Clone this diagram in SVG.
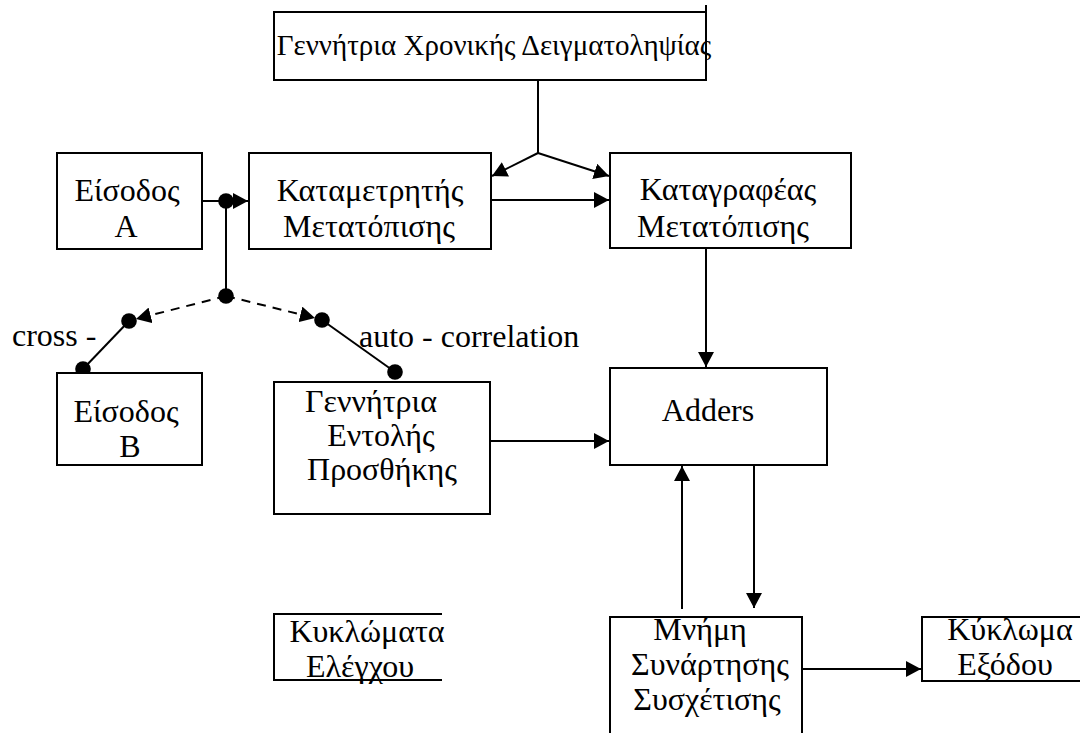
<svg xmlns="http://www.w3.org/2000/svg" width="1080" height="733" viewBox="0 0 1080 733">
  <style>
    .box { fill: #fff; stroke: #000; stroke-width: 2; }
    .open { fill: none; stroke: #000; stroke-width: 2; }
    .mid { text-anchor: middle; }
    .wire { fill: none; stroke: #000; stroke-width: 2; }
    .dash { stroke-dasharray: 9 7; }
    .dot { fill: #000; }
  </style>
  <defs>
    <marker id="arrow" markerUnits="userSpaceOnUse" viewBox="0 0 15 16" markerWidth="15" markerHeight="16" refX="15" refY="8" orient="auto">
      <path d="M0,0 L15,8 L0,16 z" fill="#000"/>
    </marker>
  </defs>

  <rect width="1080" height="733" fill="#fff"/>

  <!-- connectors -->
  <g id="connectors">
    <!-- sampling clock fan-out -->
    <path class="wire" d="M538,80 L538,153"/>
    <path class="wire" d="M538,153 L492,176" marker-end="url(#arrow)"/>
    <path class="wire" d="M538,153 L609,176" marker-end="url(#arrow)"/>
    <!-- input A to shift counter -->
    <path class="wire" d="M202,201 L248,201" marker-end="url(#arrow)"/>
    <!-- counter to register -->
    <path class="wire" d="M491,200 L609,200" marker-end="url(#arrow)"/>
    <!-- mode switch -->
    <path class="wire" d="M226,201 L226,296"/>
    <path class="wire dash" d="M226,296 L136,319" marker-end="url(#arrow)"/>
    <path class="wire dash" d="M226,296 L315,318" marker-end="url(#arrow)"/>
    <path class="wire" d="M129,321 L83,369"/>
    <path class="wire" d="M322,320 L395,372"/>
    <circle class="dot" cx="226" cy="201" r="7.8"/>
    <circle class="dot" cx="226" cy="296" r="7.8"/>
    <circle class="dot" cx="129" cy="321" r="7.8"/>
    <circle class="dot" cx="322" cy="320" r="7.8"/>
    <circle class="dot" cx="83" cy="369" r="7.8"/>
    <circle class="dot" cx="395" cy="372" r="7.8"/>
    <!-- register to adders -->
    <path class="wire" d="M706,248 L706,367" marker-end="url(#arrow)"/>
    <!-- add command generator to adders -->
    <path class="wire" d="M490,441 L609,441" marker-end="url(#arrow)"/>
    <!-- adders <-> memory -->
    <path class="wire" d="M682,609 L682,466" marker-end="url(#arrow)"/>
    <path class="wire" d="M754,465 L754,608" marker-end="url(#arrow)"/>
    <!-- memory to output -->
    <path class="wire" d="M802,669 L921,669" marker-end="url(#arrow)"/>
  </g>

  <g font-family="Liberation Serif, DejaVu Serif, serif" font-size="32" fill="#000">
    <g id="sampling-generator">
      <rect class="box" x="274" y="12" width="432" height="68"/>
      <path class="open" d="M706,5 L706,12"/>
      <text class="mid" x="494" y="55" font-size="29">Γεννήτρια Χρονικής Δειγματοληψίας</text>
    </g>

    <g id="input-a">
      <rect class="box" x="57" y="153" width="145" height="96"/>
      <text class="mid" x="127" y="201">Είσοδος</text>
      <text class="mid" x="126" y="237">A</text>
    </g>

    <g id="shift-counter">
      <rect class="box" x="249" y="153" width="242" height="96"/>
      <text class="mid" x="370" y="201">Καταμετρητής</text>
      <text class="mid" x="369" y="237">Μετατόπισης</text>
    </g>

    <g id="shift-register">
      <rect class="box" x="610" y="153" width="241" height="95"/>
      <text class="mid" x="728" y="200">Καταγραφέας</text>
      <text class="mid" x="723" y="237">Μετατόπισης</text>
    </g>

    <g id="mode-labels">
      <text x="12" y="346">cross -</text>
      <text x="359" y="347">auto - correlation</text>
    </g>

    <g id="input-b">
      <rect class="box" x="57" y="373" width="145" height="92"/>
      <text class="mid" x="126" y="422">Είσοδος</text>
      <text class="mid" x="130" y="457">B</text>
    </g>

    <g id="add-command-generator">
      <rect class="box" x="274" y="382" width="216" height="132"/>
      <text class="mid" x="371" y="412">Γεννήτρια</text>
      <text class="mid" x="381" y="446">Εντολής</text>
      <text class="mid" x="382" y="480">Προσθήκης</text>
    </g>

    <g id="adders">
      <rect class="box" x="610" y="368" width="217" height="97"/>
      <text class="mid" x="708" y="421">Adders</text>
    </g>

    <g id="control-circuits">
      <path class="open" d="M442,614 L274,614 L274,680 L442,680"/>
      <text class="mid" x="367" y="642">Κυκλώματα</text>
      <text class="mid" x="360" y="677">Ελέγχου</text>
    </g>

    <g id="correlation-memory">
      <rect class="box" x="610" y="617" width="192" height="130"/>
      <text class="mid" x="700" y="640">Μνήμη</text>
      <text class="mid" x="710" y="675">Συνάρτησης</text>
      <text class="mid" x="707" y="710">Συσχέτισης</text>
    </g>

    <g id="output-circuit">
      <path class="open" d="M1082,617 L922,617 L922,681 L1082,681"/>
      <text class="mid" x="1010" y="640">Κύκλωμα</text>
      <text class="mid" x="1005" y="675">Εξόδου</text>
    </g>
  </g>
</svg>
